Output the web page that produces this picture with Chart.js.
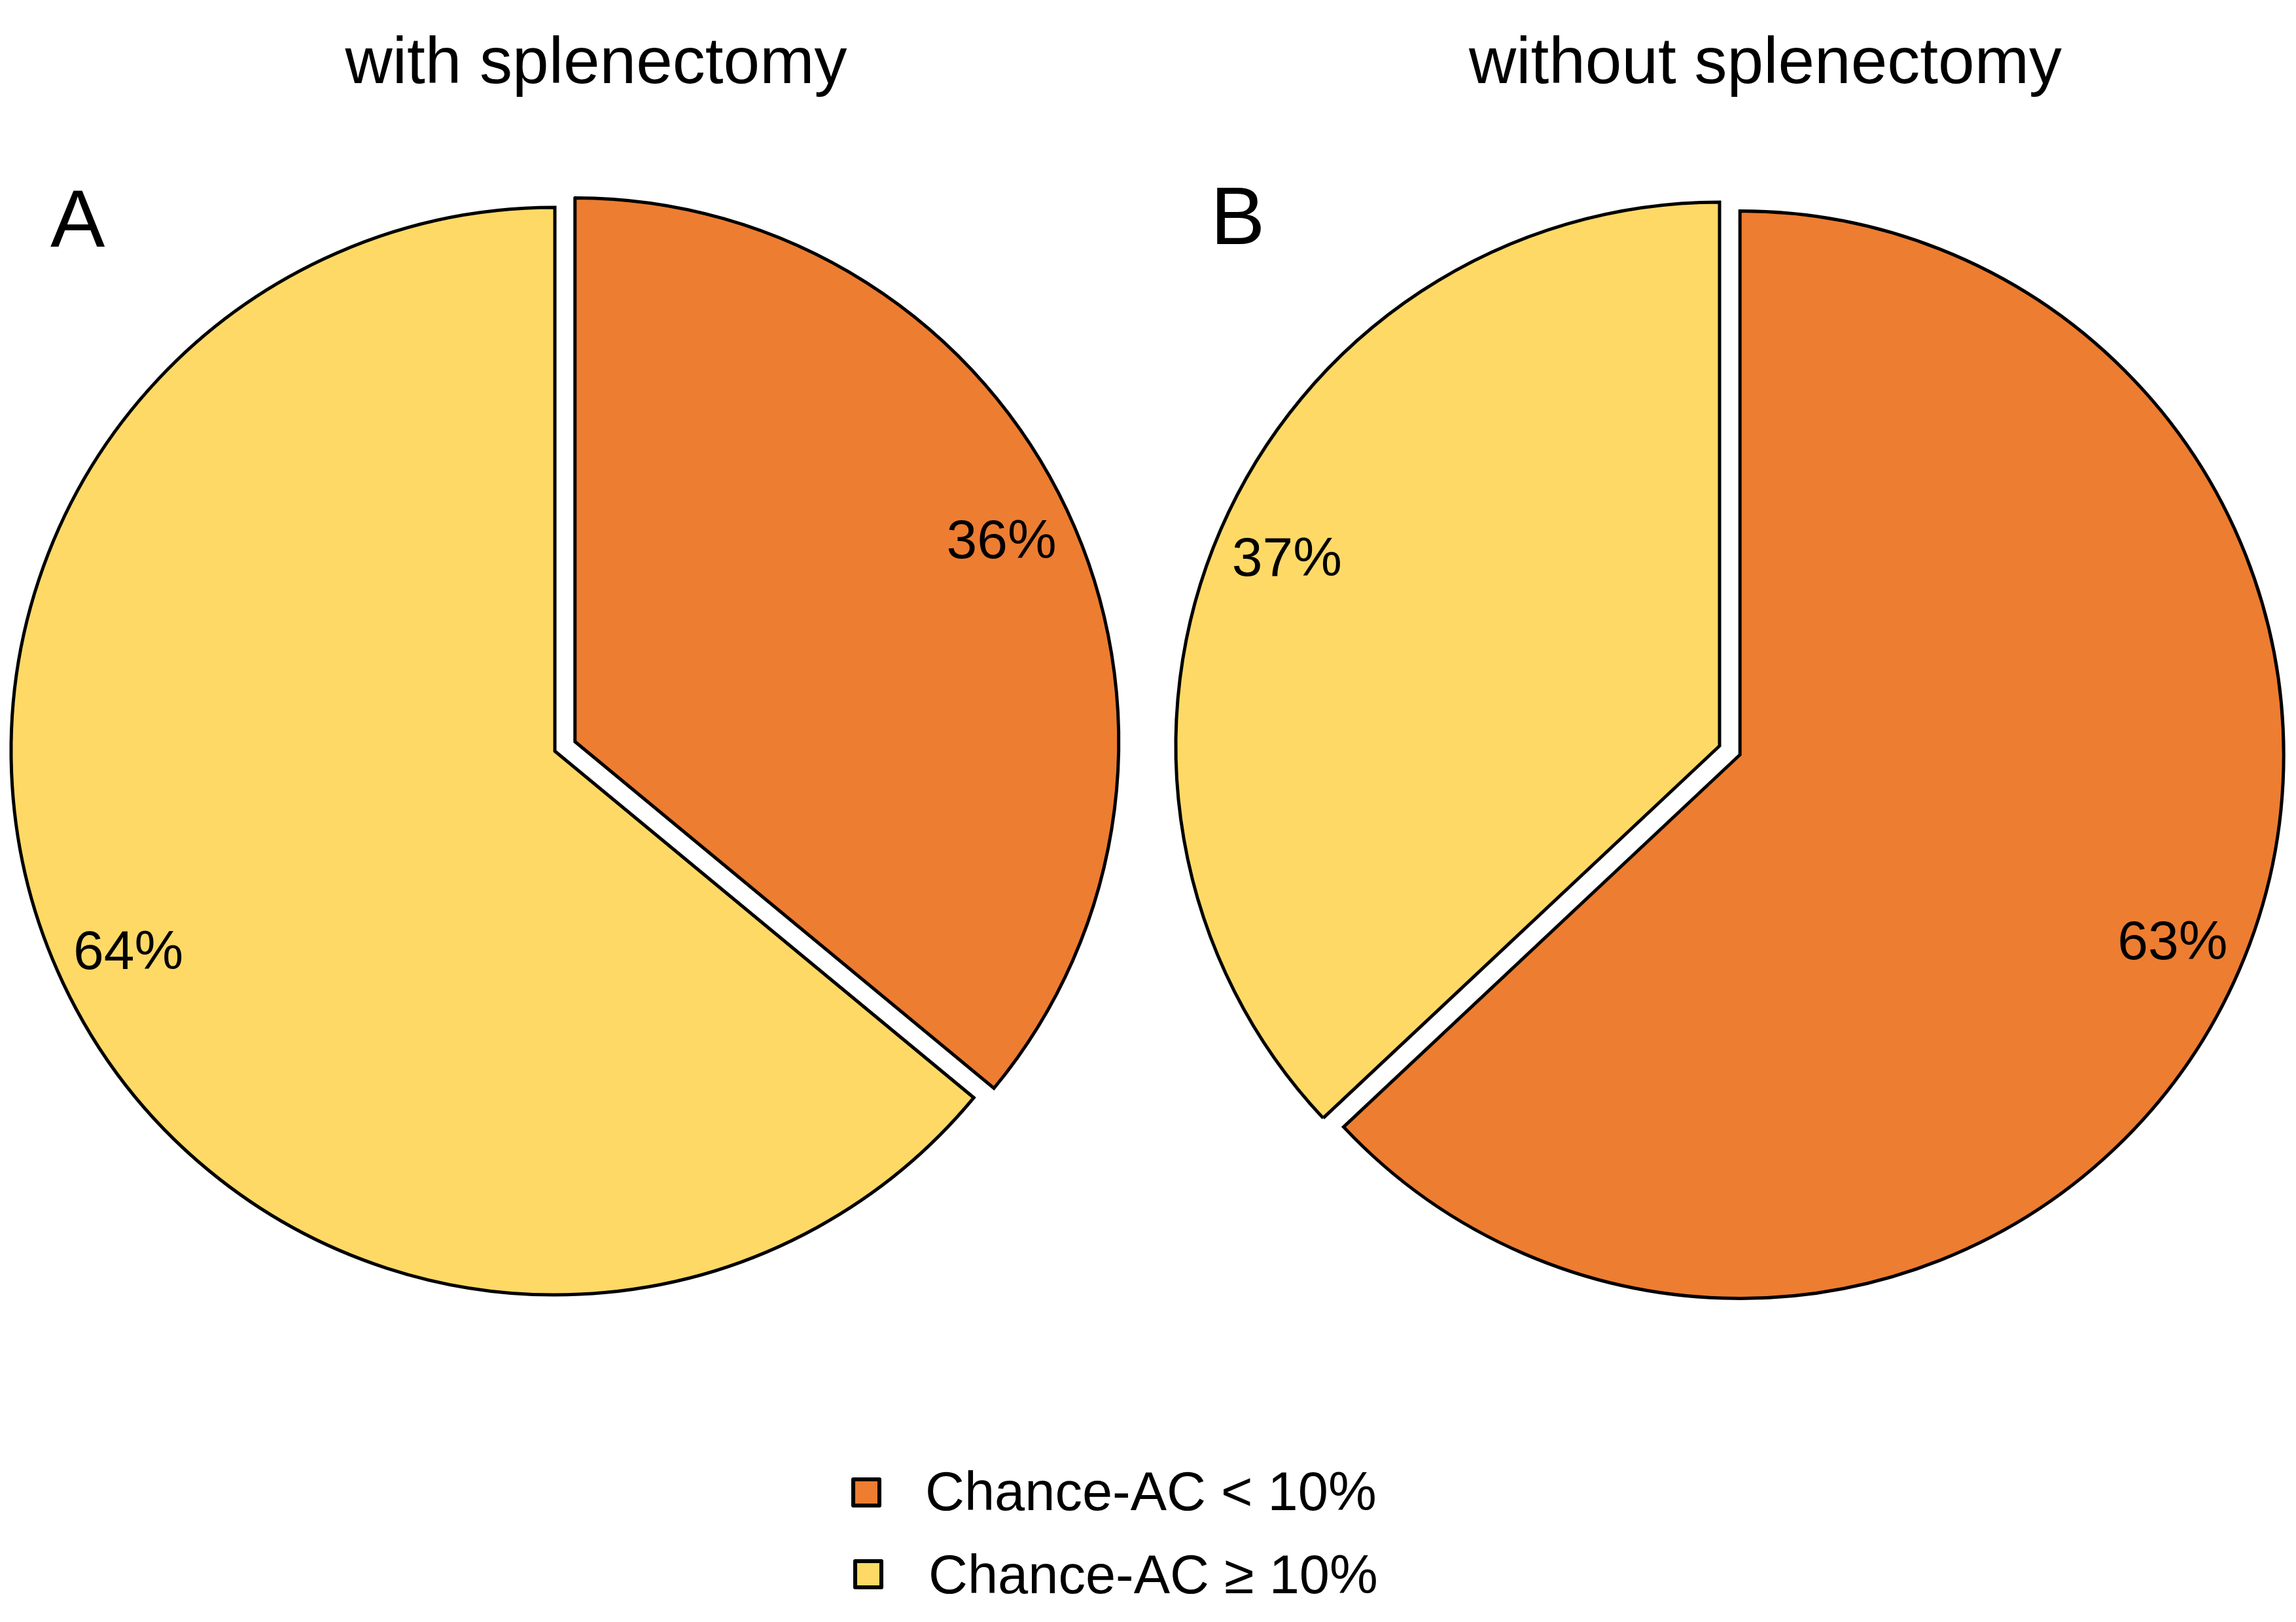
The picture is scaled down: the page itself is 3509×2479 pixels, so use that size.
<!DOCTYPE html>
<html>
<head>
<meta charset="utf-8">
<script src="https://cdn.jsdelivr.net/npm/chart.js@4"></script>
<style>
  html, body { margin: 0; padding: 0; background: #fff; }
  body { width: 3509px; height: 2479px; position: relative; overflow: hidden;
         font-family: "Liberation Sans", Arial, Helvetica, sans-serif; color: #000; }
  canvas { position: absolute; }
  .title { position: absolute; width: 1200px; text-align: center; font-size: 100px; line-height: 100px; white-space: nowrap; }
  .letter { position: absolute; font-size: 125px; line-height: 125px; }
  .legend-item { position: absolute; font-size: 83px; line-height: 83px; white-space: nowrap; }
  .legend-box { position: absolute; width: 46px; height: 46px; box-sizing: border-box; border: 6px solid #000; border-radius: 3px; }
</style>
</head>
<body>

<canvas id="pieA" width="1900" height="1800" style="left:-102px; top:248px; width:1900px; height:1800px;"></canvas>
<canvas id="pieB" width="1900" height="1800" style="left:1678px; top:240px; width:1900px; height:1800px;"></canvas>

<div class="title" id="titleA" style="left:311px; top:42px;"></div>
<div class="title" id="titleB" style="left:2098px; top:42px;"></div>
<div class="letter" id="letterA" style="left:77px; top:271px;"></div>
<div class="letter" id="letterB" style="left:1850px; top:267px;"></div>
<div id="legend"></div>

<script>
// categories (slice order, clockwise from 12 o'clock)
const categories = ["Chance-AC < 10%", "Chance-AC \u2265 10%"];
// percentages per panel
const withSplenectomy = [36, 64];
const withoutSplenectomy = [63, 37];
const panelTitles = ["with splenectomy", "without splenectomy"];
const panelLetters = ["A", "B"];
const sliceColors = ["#ED7D31", "#FFD966"];

const RADIUS = 831;
const EXPLODE_PX = 34;      // the "< 10%" slice is pulled out
const EXPLODED = 0;
const LABEL_POS = 0.867;    // label distance as share of radius

// move the exploded slice outwards along its mid angle (no radius change)
const explodePlugin = {
    id: "explode",
    afterDatasetUpdate(chart, args) {
        args.meta.data.forEach((arc, i) => {
            if (i !== EXPLODED) return;
            const mid = (arc.startAngle + arc.endAngle) / 2;
            arc.x += Math.cos(mid) * EXPLODE_PX;
            arc.y += Math.sin(mid) * EXPLODE_PX;
        });
    }
};

// percent labels inside slices
const percentPlugin = {
    id: "percentLabels",
    afterDatasetsDraw(chart) {
        const ctx = chart.ctx;
        const meta = chart.getDatasetMeta(0);
        const values = chart.data.datasets[0].data;
        const total = values.reduce((a, b) => a + b, 0);
        ctx.save();
        ctx.font = '84px "Liberation Sans", Arial, sans-serif';
        ctx.fillStyle = "#000";
        ctx.textAlign = "center";
        ctx.textBaseline = "middle";
        meta.data.forEach((arc, i) => {
            const p = arc.getProps(["x", "y", "startAngle", "endAngle", "outerRadius"], true);
            const mid = (p.startAngle + p.endAngle) / 2;
            const r = p.outerRadius * LABEL_POS;
            const pct = Math.round(values[i] / total * 100);
            ctx.fillText(pct + "%", p.x + Math.cos(mid) * r, p.y + Math.sin(mid) * r + 3);
        });
        ctx.restore();
    }
};

const makePie = (canvasId, values) => {
    const config = {
        type: "pie",
        data: {
            labels: categories,
            datasets: [
                {
                    data: values,
                    backgroundColor: sliceColors,
                    borderColor: "#000",
                    borderWidth: 5,
                    borderJoinStyle: "miter",
                    hoverOffset: 0,
                    clip: false
                }
            ]
        },
        options: {
            responsive: false,
            devicePixelRatio: 1,
            animation: false,
            radius: RADIUS,
            layout: { padding: 0 },
            events: [],
            plugins: {
                legend: { display: false },
                title: { display: false },
                tooltip: { enabled: false }
            }
        },
        plugins: [explodePlugin, percentPlugin]
    };
    return new Chart(document.getElementById(canvasId), config);
};

makePie("pieA", withSplenectomy);
makePie("pieB", withoutSplenectomy);

document.getElementById("titleA").textContent = panelTitles[0];
document.getElementById("titleB").textContent = panelTitles[1];
document.getElementById("letterA").textContent = panelLetters[0];
document.getElementById("letterB").textContent = panelLetters[1];

// legend
const legendElem = document.getElementById("legend");
const legendRows = [
    { boxLeft: 1301, boxTop: 2258, textLeft: 1414, textTop: 2238 },
    { boxLeft: 1304, boxTop: 2383, textLeft: 1419, textTop: 2365 }
];
categories.forEach((cat, i) => {
    const row = legendRows[i];
    const box = document.createElement("div");
    box.className = "legend-box";
    box.style.left = row.boxLeft + "px";
    box.style.top = row.boxTop + "px";
    box.style.background = sliceColors[i];
    legendElem.appendChild(box);

    const txt = document.createElement("div");
    txt.className = "legend-item";
    txt.style.left = row.textLeft + "px";
    txt.style.top = row.textTop + "px";
    txt.textContent = cat;
    legendElem.appendChild(txt);
});
</script>
</body>
</html>
